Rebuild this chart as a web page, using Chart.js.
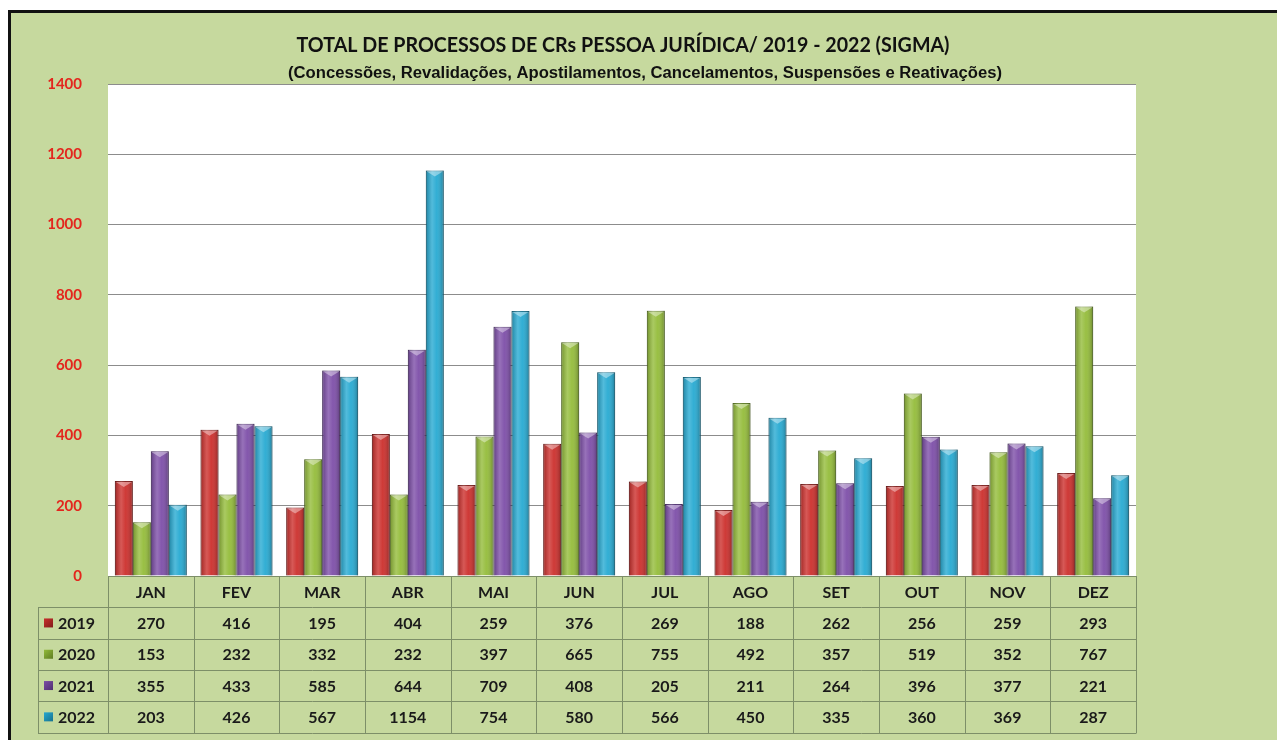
<!DOCTYPE html>
<html>
<head>
<meta charset="utf-8">
<script src="https://cdn.jsdelivr.net/npm/chart.js@4"></script>
<style>
  html, body { margin: 0; padding: 0; background: #ffffff; }
  #wrap { width: 1277px; height: 740px; }
</style>
</head>
<body>
<div id="wrap"><canvas id="chart" width="1277" height="740"></canvas></div>
<script>
const months = ['JAN', 'FEV', 'MAR', 'ABR', 'MAI', 'JUN', 'JUL', 'AGO', 'SET', 'OUT', 'NOV', 'DEZ'];
const years = ['2019', '2020', '2021', '2022'];
const values2019 = [270, 416, 195, 404, 259, 376, 269, 188, 262, 256, 259, 293];
const values2020 = [153, 232, 332, 232, 397, 665, 755, 492, 357, 519, 352, 767];
const values2021 = [355, 433, 585, 644, 709, 408, 205, 211, 264, 396, 377, 221];
const values2022 = [203, 426, 567, 1154, 754, 580, 566, 450, 335, 360, 369, 287];
const titleText = 'TOTAL DE PROCESSOS DE CRs PESSOA JURÍDICA/ 2019 - 2022 (SIGMA)';
const subtitleText = '(Concessões, Revalidações, Apostilamentos, Cancelamentos, Suspensões e Reativações)';

const seriesValues = [values2019, values2020, values2021, values2022];
const fillColors = ['#cc2f2c', '#94bc3a', '#7d4ea8', '#27aad2'];
const edgeColors = ['#7e1c1a', '#5c7a22', '#4e2f6e', '#17708c'];

const BG = '#c6d99e';
const ROW_H = 31.3;

// draws text squeezed/stretched to a given width (narrow font stand-in)
function fitText(ctx, text, cx, cy, width) {
    const w = ctx.measureText(text).width;
    ctx.save();
    ctx.translate(cx, cy);
    ctx.scale(width / w, 1);
    ctx.fillText(text, 0, 0);
    ctx.restore();
}

const framePlugin = {
    id: 'frame',
    beforeDraw(chart) {
        const ctx = chart.ctx;
        ctx.save();
        ctx.fillStyle = '#ffffff';
        ctx.fillRect(0, 0, chart.width, chart.height);
        ctx.fillStyle = BG;
        ctx.fillRect(8, 10, chart.width - 8, chart.height - 10);
        ctx.strokeStyle = '#111';
        ctx.lineWidth = 3;
        ctx.beginPath();
        ctx.moveTo(9.5, chart.height);
        ctx.lineTo(9.5, 11.5);
        ctx.lineTo(chart.width, 11.5);
        ctx.stroke();
        const a = chart.chartArea;
        ctx.fillStyle = '#ffffff';
        ctx.fillRect(a.left, a.top, a.right - a.left, a.bottom - a.top);

        ctx.fillStyle = '#111';
        ctx.textAlign = 'center';
        ctx.textBaseline = 'middle';
        ctx.font = 'bold 20px Lato, "Open Sans", sans-serif';
        fitText(ctx, titleText, 623, 46, 653);
        ctx.font = 'bold 16px "Liberation Sans Narrow", "Liberation Sans", sans-serif';
        fitText(ctx, subtitleText, 645, 74, 714);
        ctx.restore();
    },
    afterDatasetsDraw(chart) {
        // cylinder-like shading on each bar
        const ctx = chart.ctx;
        ctx.save();
        chart.data.datasets.forEach((ds, di) => {
            const meta = chart.getDatasetMeta(di);
            meta.data.forEach(bar => {
                const l = bar.x - bar.width / 2;
                const w = bar.width;
                const g = ctx.createLinearGradient(l, 0, l + w, 0);
                g.addColorStop(0, 'rgba(0,0,0,0.22)');
                g.addColorStop(0.35, 'rgba(255,255,255,0.2)');
                g.addColorStop(0.6, 'rgba(255,255,255,0.05)');
                g.addColorStop(1, 'rgba(0,0,0,0.28)');
                ctx.fillStyle = g;
                ctx.fillRect(l, bar.y, w, bar.base - bar.y);
                // small top bevel
                ctx.fillStyle = 'rgba(255,255,255,0.4)';
                ctx.beginPath();
                ctx.moveTo(l + 1, bar.y + 1);
                ctx.lineTo(l + w - 1, bar.y + 1);
                ctx.lineTo(l + w / 2, bar.y + 6);
                ctx.closePath();
                ctx.fill();
            });
        });
        ctx.restore();
    },
    afterDraw(chart) {
        // data table under the plot
        const ctx = chart.ctx;
        const a = chart.chartArea;
        const x = chart.scales.x;
        const cw = (a.right - a.left) / months.length;
        const top = a.bottom;
        const legendLeft = 38;
        ctx.save();
        ctx.strokeStyle = '#7d8f68';
        ctx.lineWidth = 1;
        ctx.beginPath();
        for (let r = 0; r <= years.length + 1; r++) {
            const y = Math.round(top + r * ROW_H) + 0.5;
            ctx.moveTo(r === 0 ? a.left : legendLeft, y);
            ctx.lineTo(a.right, y);
        }
        const bottom = Math.round(top + (years.length + 1) * ROW_H) + 0.5;
        for (let c = 0; c <= months.length; c++) {
            const xx = Math.round(a.left + c * cw) + 0.5;
            ctx.moveTo(xx, top);
            ctx.lineTo(xx, bottom);
        }
        ctx.moveTo(legendLeft + 0.5, Math.round(top + ROW_H) + 0.5);
        ctx.lineTo(legendLeft + 0.5, bottom);
        ctx.stroke();

        ctx.fillStyle = '#1a1a1a';
        ctx.textAlign = 'center';
        ctx.textBaseline = 'middle';
        ctx.font = 'bold 16px Lato, "Open Sans", sans-serif';
        months.forEach((m, i) => {
            const cx = x.getPixelForValue(i);
            ctx.fillText(m, cx, top + ROW_H / 2 + 1);
            seriesValues.forEach((vals, r) => {
                ctx.fillText(String(vals[i]), cx, top + (r + 1.5) * ROW_H + 1);
            });
        });
        years.forEach((yr, r) => {
            const cy = top + (r + 1.5) * ROW_H;
            const sq = ctx.createLinearGradient(44, cy - 5, 53, cy + 5);
            sq.addColorStop(0, fillColors[r]);
            sq.addColorStop(1, edgeColors[r]);
            ctx.fillStyle = sq;
            ctx.fillRect(44, cy - 4.5, 9, 9);
            ctx.fillStyle = '#1a1a1a';
            ctx.textAlign = 'left';
            ctx.fillText(yr, 58, cy + 1);
        });
        ctx.restore();
    }
};

const datasets = years.map((yr, i) => ({
    label: yr,
    data: seriesValues[i],
    backgroundColor: fillColors[i],
    borderColor: edgeColors[i],
    borderWidth: 1,
    borderSkipped: 'bottom'
}));

new Chart(document.getElementById('chart').getContext('2d'), {
    type: 'bar',
    data: { labels: months, datasets: datasets },
    options: {
        responsive: false,
        animation: false,
        devicePixelRatio: 1,
        layout: { padding: { left: 8, right: 141, top: 84, bottom: 164 } },
        datasets: { bar: { categoryPercentage: 0.84, barPercentage: 1.0 } },
        scales: {
            x: { display: false },
            y: {
                min: 0,
                max: 1400,
                afterFit: function(scale) { scale.width = 100; },
                ticks: {
                    stepSize: 200,
                    padding: 26,
                    color: '#e3261d',
                    font: { family: 'Lato, "Open Sans", sans-serif', size: 15, weight: 'bold' },
                    callback: function(value) { return String(value); }
                },
                border: { display: false },
                grid: { color: '#8c8c8c', drawTicks: false, lineWidth: 1 }
            }
        },
        plugins: {
            legend: { display: false },
            title: { display: false },
            tooltip: { enabled: false }
        }
    },
    plugins: [framePlugin]
});
</script>
</body>
</html>
